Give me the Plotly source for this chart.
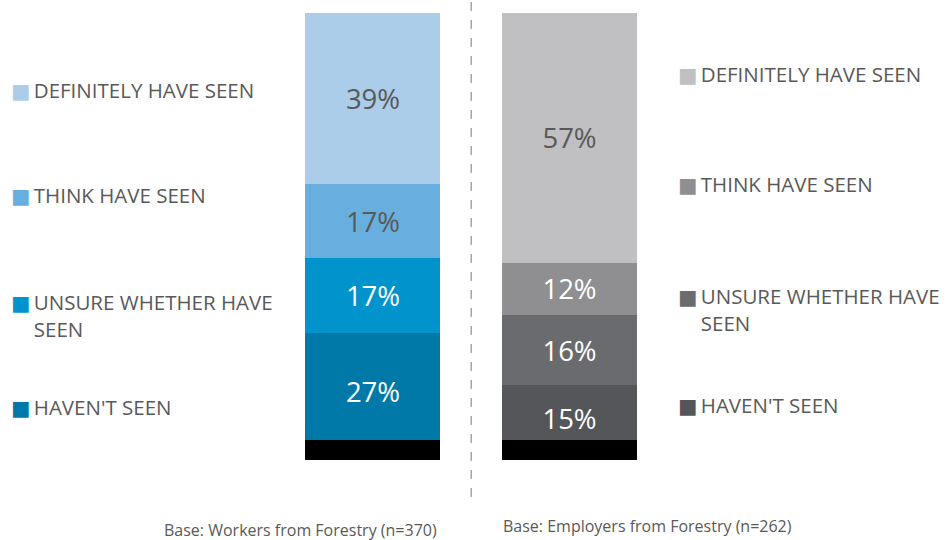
import textwrap
import plotly.graph_objects as go

# ---------------- data ----------------
groups = ["Workers from Forestry", "Employers from Forestry"]
sample_sizes = [370, 262]
answers = ["DEFINITELY HAVE SEEN", "THINK HAVE SEEN", "UNSURE WHETHER HAVE SEEN", "HAVEN'T SEEN"]
workers_pct = [39, 17, 17, 27]
employers_pct = [57, 12, 16, 15]
# dark strip overlaid at the foot of each bar (in % units)
cover_base = [-2, -2]
cover_height = [4.6, 4.6]

# ---------------- styles ----------------
FONT = "Open Sans, DejaVu Sans, sans-serif"
TEXT = "#595959"
blue = ["#ABCDEA", "#68AFE0", "#0093CC", "#0079A9"]
grey = ["#C0C0C2", "#8F8F92", "#6A6B6E", "#55565A"]
lab_w = [TEXT, TEXT, "white", "white"]
lab_e = [TEXT, "white", "white", "white"]
BAR_W = 0.687

fig = go.Figure()
for i in reversed(range(len(answers))):
    fig.add_trace(go.Bar(
        x=groups, y=[workers_pct[i], employers_pct[i]], name=answers[i],
        marker=dict(color=[blue[i], grey[i]], line=dict(width=0)),
        texttemplate="%{y}%", textposition="inside", insidetextanchor="middle",
        textangle=0, textfont=dict(size=27.5, color=[lab_w[i], lab_e[i]], family=FONT),
        width=BAR_W, showlegend=False, hoverinfo="skip"))
fig.add_trace(go.Bar(
    x=groups, y=cover_height, base=cover_base, marker=dict(color="black", line=dict(width=0)),
    width=BAR_W, showlegend=False, hoverinfo="skip"))

# ---------------- legends as text ----------------
def legend_text(label, color):
    lines = textwrap.wrap(label, 20)
    first = f"<span style='color:{color}'>■</span>\u2009{lines[0]}"
    rest = [f"<span style='color:rgba(0,0,0,0)'>■</span>\u2009{l}" for l in lines[1:]]
    return "<br>".join([first] + rest)

W, H = 947, 540
left_y = [90, 195, 315, 407]
right_y = [74, 184, 309, 405]
annotations = []
for i, lab in enumerate(answers):
    annotations.append(dict(x=9 / W, y=1 - left_y[i] / H, xref="paper", yref="paper",
                            xanchor="left", yanchor="middle", align="left", showarrow=False,
                            text=legend_text(lab, blue[i]),
                            font=dict(size=20.5, color=TEXT, family=FONT)))
    annotations.append(dict(x=676 / W, y=1 - right_y[i] / H, xref="paper", yref="paper",
                            xanchor="left", yanchor="middle", align="left", showarrow=False,
                            text=legend_text(lab, grey[i]),
                            font=dict(size=20.5, color=TEXT, family=FONT)))

base_x = [300, 647]
base_y = [530, 526]
for g, n, bx, by in zip(groups, sample_sizes, base_x, base_y):
    annotations.append(dict(x=bx / W, y=1 - by / H, xref="paper", yref="paper",
                            xanchor="center", yanchor="middle", showarrow=False,
                            text=f"Base: {g} (n={n})",
                            font=dict(size=16, color=TEXT, family=FONT)))

fig.update_layout(
    width=W, height=H, margin=dict(l=0, r=0, t=0, b=0),
    paper_bgcolor="white", plot_bgcolor="white",
    barmode="stack",
    xaxis=dict(type="category", range=[-1.898, 2.921], visible=False),
    yaxis=dict(range=[-20.3, 102.97], visible=False),
    annotations=annotations,
    shapes=[dict(type="line", xref="x", yref="paper", x0=0.5, x1=0.5, y0=1 - 497 / H, y1=1,
                 line=dict(color="#A6A6A6", width=1.5, dash="dash"))],
)

fig.write_html("out.html", config={"displayModeBar": False},
               post_script="document.body.style.margin='0';document.body.style.padding='0';")
